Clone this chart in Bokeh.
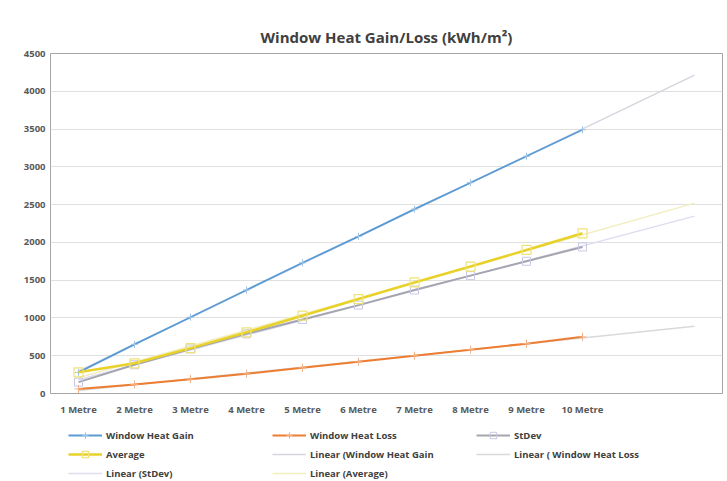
import numpy as np
from bokeh.plotting import figure
from bokeh.layouts import column
from bokeh.models import FixedTicker, Legend, LegendItem
from bokeh.embed import file_html
from bokeh.resources import INLINE

# ---- data ----
positions = [1, 2, 3, 4, 5, 6, 7, 8, 9, 10]
categories = ["1 Metre", "2 Metre", "3 Metre", "4 Metre", "5 Metre",
              "6 Metre", "7 Metre", "8 Metre", "9 Metre", "10 Metre"]
heat_gain = [280, 650, 1010, 1370, 1730, 2080, 2440, 2790, 3140, 3490]
heat_loss = [60, 120, 190, 260, 340, 420, 500, 580, 660, 750]
stdev = [150, 380, 590, 790, 980, 1170, 1370, 1560, 1750, 1940]
average = [280, 400, 600, 810, 1030, 1250, 1470, 1680, 1900, 2120]
forecast_end = 12
y_ticks = [0, 500, 1000, 1500, 2000, 2500, 3000, 3500, 4000, 4500]

FONT = "Open Sans"
TXT = "#404040"

# ---- styles ----
GAIN = dict(line_color="#5b9bd5", line_width=1.8)
GAIN_M = dict(marker="cross", size=7, line_color="#9dc3e6", line_width=1)
LOSS = dict(line_color="#ed7d31", line_width=2)
LOSS_M = dict(marker="cross", size=8, line_color="#f4b183", line_width=1)
SD = dict(line_color="#a5a5b0", line_width=2)
SD_M = dict(marker="square", size=8, line_color="#c8c8e4", fill_color=None, line_width=1)
AVG = dict(line_color="#e8d22a", line_width=2.5)
AVG_M = dict(marker="square", size=9, line_color="#f0e27a", fill_color=None, line_width=1.2)
T_GAIN = dict(line_color="#d5d5e0", line_width=1.5)
T_LOSS = dict(line_color="#d9d9d9", line_width=1.5)
T_SD = dict(line_color="#dedef0", line_width=1.5)
T_AVG = dict(line_color="#f1eec0", line_width=1.5)

p = figure(width=727, height=418, output_backend="svg", toolbar_location=None,
           x_range=(0.5, 12.5), y_range=(0, 4500),
           min_border_left=50, min_border_right=5, min_border_top=53,
           min_border_bottom=25, title="Window Heat Gain/Loss (kWh/m²)")

p.title.align = "center"
p.title.text_font = FONT
p.title.text_font_size = "15px"
p.title.text_font_style = "bold"
p.title.text_color = "#404040"
p.title.standoff = 14

p.outline_line_color = "#a6a6a6"
p.outline_line_width = 1
p.background_fill_color = "white"
p.border_fill_color = "white"

p.xgrid.grid_line_color = None
p.ygrid.grid_line_color = "#e0e0e0"
p.ygrid.ticker = FixedTicker(ticks=y_ticks)

p.yaxis.ticker = FixedTicker(ticks=y_ticks)
p.xaxis.ticker = FixedTicker(ticks=positions)
p.xaxis.major_label_overrides = {pos: lab for pos, lab in zip(positions, categories)}
for ax in (p.xaxis[0], p.yaxis[0]):
    ax.axis_line_color = None
    ax.major_tick_line_color = None
    ax.minor_tick_line_color = None
    ax.major_tick_out = 0
    ax.major_tick_in = 0
    ax.minor_tick_out = 0
    ax.major_label_text_font = FONT
    ax.major_label_text_font_size = "9.5px"
    ax.major_label_text_font_style = "bold"
    ax.major_label_text_color = "#595959"
p.yaxis.major_label_standoff = 5
p.xaxis.major_label_standoff = 9

def trend(values):
    k, b = np.polyfit(positions, values, 1)
    xs = [positions[0], forecast_end]
    return xs, [k * x + b for x in xs]

# trend lines (drawn first, beneath)
p.line(*trend(heat_gain), **T_GAIN)
p.line(*trend(heat_loss), **T_LOSS)
p.line(*trend(stdev), **T_SD)
p.line(*trend(average), **T_AVG)

# series
p.line(positions, heat_gain, **GAIN)
p.scatter(positions, heat_gain, **GAIN_M)
p.line(positions, heat_loss, **LOSS)
p.scatter(positions, heat_loss, **LOSS_M)
p.line(positions, stdev, **SD)
p.scatter(positions, stdev, **SD_M)
p.line(positions, average, **AVG)
p.scatter(positions, average, **AVG_M)

# ---- legend strip (separate figure below the chart; its own ranges keep
#      the key renderers out of view so only the legend shows) ----
lf = figure(width=727, height=63, output_backend="svg", toolbar_location=None,
            x_range=(-20, -19), y_range=(-20, -19), min_border=0)
lf.axis.visible = False
lf.grid.visible = False
lf.outline_line_color = None
lf.border_fill_color = "white"
lf.background_fill_color = "white"

def key(values, line_style, marker_style=None):
    rs = [lf.line(positions, values, **line_style)]
    if marker_style:
        rs.append(lf.scatter(positions, values, **marker_style))
    return rs

# column-major order (the legend fills columns first)
items = [
    LegendItem(label="Window Heat Gain", renderers=key(heat_gain, GAIN, GAIN_M)),
    LegendItem(label="Average", renderers=key(average, AVG, AVG_M)),
    LegendItem(label="Linear (StDev)", renderers=key(stdev, T_SD)),
    LegendItem(label="Window Heat Loss", renderers=key(heat_loss, LOSS, LOSS_M)),
    LegendItem(label="Linear (Window Heat Gain", renderers=key(heat_gain, T_GAIN)),
    LegendItem(label="Linear (Average)", renderers=key(average, T_AVG)),
    LegendItem(label="StDev", renderers=key(stdev, SD, SD_M)),
    LegendItem(label="Linear ( Window Heat Loss", renderers=key(heat_loss, T_LOSS)),
]
legend = Legend(items=items, ncols=3, location=(18, 0),
                label_text_font=FONT, label_text_font_size="9.5px",
                label_text_font_style="bold", label_text_color=TXT,
                glyph_width=34, glyph_height=16, label_height=16,
                label_width=163, label_standoff=4, spacing=3, padding=0,
                margin=0, border_line_color=None, background_fill_alpha=0)
lf.add_layout(legend, "center")

layout = column(p, lf, spacing=0)
open("out.html", "w").write(file_html(layout, INLINE))
